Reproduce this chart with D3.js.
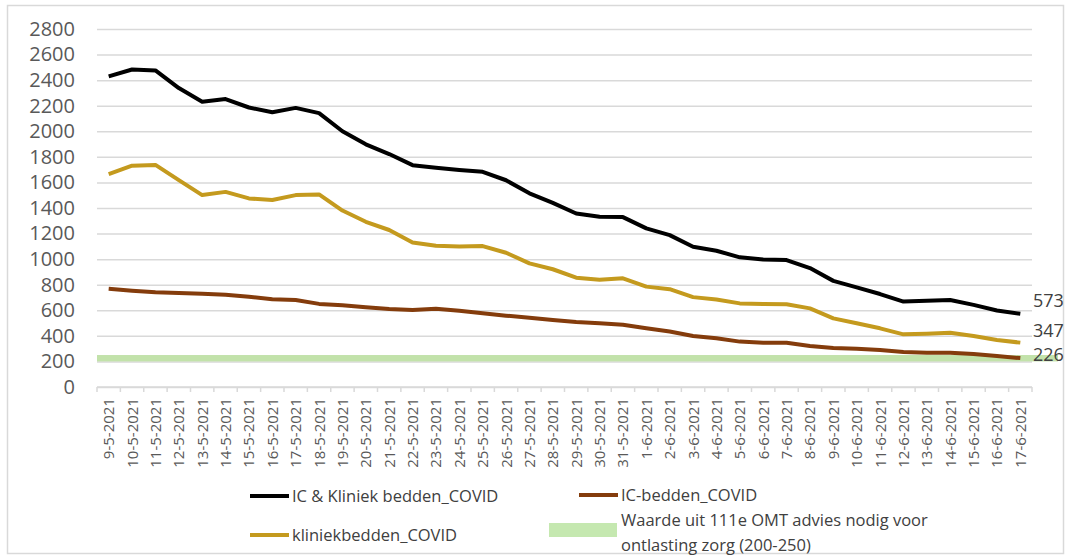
<!doctype html>
<html>
  <head>
    <script src="https://cdnjs.cloudflare.com/ajax/libs/d3/7.8.5/d3.min.js"></script>
    <style>
      body { margin: 0; background: #fff; }
      text { font-family: "Open Sans", "Liberation Sans", sans-serif; }
    </style>
  </head>
  <body>
    <svg></svg>
    <script>
      var dates = ["9-5-2021","10-5-2021","11-5-2021","12-5-2021","13-5-2021","14-5-2021","15-5-2021","16-5-2021",
        "17-5-2021","18-5-2021","19-5-2021","20-5-2021","21-5-2021","22-5-2021","23-5-2021","24-5-2021","25-5-2021",
        "26-5-2021","27-5-2021","28-5-2021","29-5-2021","30-5-2021","31-5-2021","1-6-2021","2-6-2021","3-6-2021",
        "4-6-2021","5-6-2021","6-6-2021","7-6-2021","8-6-2021","9-6-2021","10-6-2021","11-6-2021","12-6-2021",
        "13-6-2021","14-6-2021","15-6-2021","16-6-2021","17-6-2021"];

      var totaal = [2430,2483,2476,2338,2231,2252,2186,2149,2183,2142,2000,1898,1822,1735,1715,1697,1683,1617,1515,1440,
        1357,1331,1329,1241,1188,1097,1066,1014,998,993,930,830,779,727,668,675,680,642,598,573];
      var kliniek = [1665,1731,1737,1618,1501,1526,1475,1463,1501,1506,1380,1292,1228,1130,1105,1098,1102,1050,967,921,
        855,838,850,785,765,703,685,654,649,647,615,537,498,459,412,417,424,399,368,347];
      var ic = [769,753,741,735,730,722,706,686,680,650,639,623,610,602,612,597,577,558,542,524,
        508,498,487,459,434,399,381,355,346,346,321,305,300,289,274,268,268,258,243,226];

      var band = [200, 250];
      var yTicks = [0,200,400,600,800,1000,1200,1400,1600,1800,2000,2200,2400,2600,2800];

      var series = [
        {name: "IC & Kliniek bedden_COVID", values: totaal, color: "#000000"},
        {name: "kliniekbedden_COVID", values: kliniek, color: "#c49a1e"},
        {name: "IC-bedden_COVID", values: ic, color: "#843c0c"}
      ];

      var width = 1067, height = 558;
      var plotLeft = 97, plotRight = 1032, plotTop = 29, plotBottom = 387;

      var svg = d3.select("svg").attr("width", width).attr("height", height);

      // kader
      svg.append("rect").attr("x", 7.5).attr("y", 5.5).attr("width", 1056).attr("height", 548)
        .attr("fill", "none").attr("stroke", "#d9d9d9").attr("stroke-width", 1.5);

      var x = d3.scaleBand().domain(dates).range([plotLeft, plotRight]).padding(0);
      var y = d3.scaleLinear().domain([0, 2800]).range([plotBottom, plotTop]);
      var cx = d => x(d) + x.bandwidth() / 2;

      // rasterlijnen + y-as
      var yAxis = svg.append("g").attr("transform", "translate(" + plotLeft + ",0)")
        .call(d3.axisLeft(y).tickValues(yTicks).tickFormat(d3.format("d"))
          .tickSize(-(plotRight - plotLeft)).tickPadding(22));
      yAxis.select(".domain").remove();
      yAxis.selectAll(".tick line").attr("stroke", "#d9d9d9").attr("stroke-width", 1.5);
      yAxis.selectAll(".tick text").attr("fill", "#595959").style("font-size", "20px");

      // groene band 200-250
      svg.append("rect").attr("x", plotLeft).attr("y", y(band[1]))
        .attr("width", 1058 - plotLeft).attr("height", y(band[0]) - y(band[1]))
        .attr("fill", "#c2e2aa");

      // x-as
      svg.append("line").attr("x1", plotLeft).attr("x2", plotRight).attr("y1", plotBottom).attr("y2", plotBottom)
        .attr("stroke", "#d9d9d9").attr("stroke-width", 1.5);
      svg.append("g").selectAll("line").data(dates.concat(["end"])).enter().append("line")
        .attr("x1", (d, i) => i < dates.length ? x(d) : plotRight)
        .attr("x2", (d, i) => i < dates.length ? x(d) : plotRight)
        .attr("y1", plotBottom).attr("y2", plotBottom + 5)
        .attr("stroke", "#d9d9d9").attr("stroke-width", 1.5);

      svg.append("g").selectAll("text").data(dates).enter().append("text")
        .text(d => d)
        .attr("transform", d => "translate(" + (cx(d) + 5.5) + "," + 398 + ") rotate(-90)")
        .attr("text-anchor", "end")
        .attr("fill", "#595959")
        .style("font-size", "15px");

      // lijnen
      var line = d3.line().x((d, i) => cx(dates[i])).y(d => y(d));
      svg.append("g").selectAll("path").data(series).enter().append("path")
        .attr("d", d => line(d.values))
        .attr("fill", "none")
        .attr("stroke", d => d.color)
        .attr("stroke-width", 4)
        .attr("stroke-linejoin", "round");

      // eindlabels
      svg.append("g").selectAll("text").data(series).enter().append("text")
        .text(d => d.values[d.values.length - 1])
        .attr("x", 1033)
        .attr("y", (d, i) => [301, 331, 355][i])
        .attr("dy", "0.35em")
        .attr("fill", "#404040")
        .style("font-size", "18px");

      // legenda
      var legend = [
        {name: series[0].name, color: series[0].color, x: 250, y: 496, type: "line"},
        {name: series[2].name, color: series[2].color, x: 579, y: 495, type: "line"},
        {name: series[1].name, color: series[1].color, x: 250, y: 535, type: "line"},
        {name: "Waarde uit 111e OMT advies nodig voor|ontlasting zorg (200-250)", color: "#c5e8b0", x: 549, y: 530, type: "rect"}
      ];
      var lg = svg.append("g").selectAll("g").data(legend).enter().append("g");
      lg.filter(d => d.type === "line").append("line")
        .attr("x1", d => d.x).attr("x2", d => d.x + 39)
        .attr("y1", d => d.y).attr("y2", d => d.y)
        .attr("stroke", d => d.color).attr("stroke-width", 4);
      lg.filter(d => d.type === "rect").append("rect")
        .attr("x", d => d.x).attr("y", d => d.y - 7).attr("width", 68).attr("height", 14)
        .attr("fill", d => d.color);
      lg.each(function(d) {
        var tx = d.type === "rect" ? d.x + 72 : d.x + 42;
        var lines = d.name.split("|");
        var t = d3.select(this).append("text").attr("x", tx).attr("fill", "#404040").style("font-size", "16.5px");
        lines.forEach(function(s, i) {
          t.append("tspan").attr("x", tx)
            .attr("y", lines.length > 1 ? d.y - 10 + i * 25 : d.y)
            .attr("dy", "0.35em").text(s);
        });
      });
    </script>
  </body>
</html>
